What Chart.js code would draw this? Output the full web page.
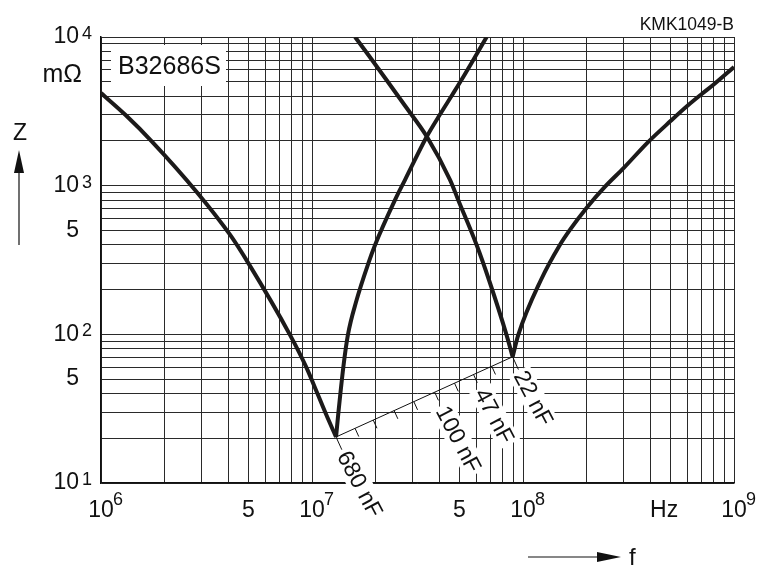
<!DOCTYPE html>
<html>
<head>
<meta charset="utf-8">
<script src="https://cdn.jsdelivr.net/npm/chart.js@4/dist/chart.umd.min.js"></script>
<style>
  body { margin: 0; background: #fff; }
  canvas { display: block; }
</style>
</head>
<body>
<canvas id="zChart" width="761" height="565"></canvas>
<script>
// impedance curves (f in Hz, Z in mOhm)
var freqA = [1.0e6, 1.304e6, 1.744e6, 2.848e6, 4.095e6, 5.0e6, 7.875e6, 9.38e6, 1.061e7, 1.166e7, 1.30e7,
             1.334e7, 1.408e7, 1.479e7, 1.627e7, 1.849e7, 1.99e7, 2.475e7, 2.76e7, 3.50e7, 4.033e7, 4.607e7, 5.252e7, 6.726e7];
var zA    = [4196, 2997, 1981, 904, 466, 300, 98.8, 60.4, 40.0, 29.0, 20.4,
             29.8, 60.4, 98.8, 170, 300, 399, 802, 1094, 2140, 2997, 4055, 5488, 10000];

var freqB = [1.60e7, 1.884e7, 2.26e7, 2.76e7, 3.50e7, 4.51e7, 4.93e7, 6.03e7, 6.90e7, 8.36e7, 8.93e7,
             9.49e7, 1.216e8, 1.495e8, 1.668e8, 2.0e8, 2.442e8, 3.004e8, 3.904e8, 5.016e8, 6.017e8, 7.055e8, 8.04e8, 1.0e9];
var zB    = [10000, 7310, 5117, 3446, 2140, 1094, 802, 399, 232, 98.8, 70.6,
             98.8, 232, 399, 504, 708, 981, 1317, 1956, 2730, 3446, 4151, 4810, 6280];

// capacitance scale between the two resonance points
var capNF   = [680, 470, 330, 220, 150, 100, 68, 47, 33, 22];
var capText = ['680 nF', '', '', '', '', '100 nF', '', '47 nF', '', '22 nF'];

var xLabelVals = [1e6, 5e6, 1e7, 5e7, 1e8, 5e8, 1e9];
var xLabelText = ['10', '5', '10', '5', '10', 'Hz  ', '10'];
var xLabelExp  = ['6', '', '7', '', '8', '', '9'];
var yLabelVals = [10, 50, 100, 500, 1000, 10000];
var yLabelText = ['10', '5', '10', '5', '10', '10'];
var yLabelExp  = ['1', '', '2', '', '3', '4'];

var FONT = '"Liberation Sans", Arial, sans-serif';

function decadeTicks(lo, hi) {
    var out = [];
    for (var e = lo; e < hi; e++) {
        for (var m = 1; m < 10; m++) out.push({value: m * Math.pow(10, e)});
    }
    out.push({value: Math.pow(10, hi)});
    return out;
}

function indexOfVal(vals, v) {
    for (var i = 0; i < vals.length; i++) {
        if (Math.abs(vals[i] - v) / vals[i] < 1e-6) return i;
    }
    return -1;
}

function labelFor(vals, texts, v) {
    var i = indexOfVal(vals, v);
    return i < 0 ? '' : texts[i];
}

function minIndex(zs) {
    var k = 0;
    zs.forEach(function (z, i) { if (z < zs[k]) k = i; });
    return k;
}

function pts(fs, zs, from, to) {
    var out = [];
    for (var i = from; i <= to; i++) out.push({x: fs[i], y: zs[i]});
    return out;
}

var kA = minIndex(zA), kB = minIndex(zB);
var minA = {f: freqA[kA], z: zA[kA]};
var minB = {f: freqB[kB], z: zB[kB]};

Chart.defaults.font.family = FONT;
Chart.defaults.color = '#111';

function curve(data) {
    return {
        data: data,
        showLine: true,
        borderColor: '#1c1a1a',
        borderWidth: 4,
        borderJoinStyle: 'round',
        pointRadius: 0,
        cubicInterpolationMode: 'monotone'
    };
}

var annotations = {
    id: 'annotations',
    afterDatasetsDraw: function (chart) {
        var ctx = chart.ctx, a = chart.chartArea;
        var xs = chart.scales.x, ys = chart.scales.y;

        // capacitance scale ticks and labels
        var p0 = {x: xs.getPixelForValue(minA.f), y: ys.getPixelForValue(minA.z)};
        var p1 = {x: xs.getPixelForValue(minB.f), y: ys.getPixelForValue(minB.z)};
        var dx = p1.x - p0.x, dy = p1.y - p0.y, len = Math.hypot(dx, dy);
        var nx = -dy / len, ny = dx / len;
        var ang = Math.atan2(ny, nx) - 0.06;
        var span = Math.log(capNF[0] / capNF[capNF.length - 1]);
        var last = capNF.length - 1;

        ctx.save();
        ctx.font = '23px ' + FONT;
        ctx.textBaseline = 'middle';
        ctx.textAlign = 'left';

        var tp = capNF.map(function (c) {
            var t = Math.log(capNF[0] / c) / span;
            return {x: p0.x + dx * t, y: p0.y + dy * t};
        });

        tp.forEach(function (p, i) {
            if (!capText[i]) return;
            var w = ctx.measureText(capText[i]).width;
            ctx.save();
            ctx.translate(p.x + nx * 17, p.y + ny * 17);
            ctx.rotate(ang);
            ctx.fillStyle = '#fff';
            ctx.fillRect(-2, -12, w + 5, 24);
            ctx.restore();
        });

        ctx.strokeStyle = '#111';
        ctx.lineWidth = 1;
        tp.forEach(function (p, i) {
            var L = (i === 0 || i === last) ? 14 : 9;
            ctx.beginPath();
            ctx.moveTo(p.x, p.y);
            ctx.lineTo(p.x + nx * L, p.y + ny * L);
            ctx.stroke();
        });

        ctx.fillStyle = '#111';
        tp.forEach(function (p, i) {
            if (!capText[i]) return;
            ctx.save();
            ctx.translate(p.x + nx * 17, p.y + ny * 17);
            ctx.rotate(ang);
            ctx.fillText(capText[i], 0, 1);
            ctx.restore();
        });

        // type designation box
        ctx.fillStyle = '#fff';
        ctx.fillRect(a.left + 10, a.top + 8, 115, 41);
        ctx.fillStyle = '#111';
        ctx.font = '25px ' + FONT;
        ctx.fillText('B32686S', a.left + 17, a.top + 30);

        // unit
        ctx.textAlign = 'right';
        ctx.fillText('mΩ', 82, a.top + 38);

        // exponents of the decade labels
        ctx.font = '18px ' + FONT;
        ctx.textAlign = 'left';
        ctx.textBaseline = 'alphabetic';
        xLabelVals.forEach(function (v, i) {
            if (!xLabelExp[i]) return;
            ctx.fillText(xLabelExp[i], xs.getPixelForValue(v) + 12, a.bottom + 22);
        });
        yLabelVals.forEach(function (v, i) {
            if (!yLabelExp[i]) return;
            ctx.fillText(yLabelExp[i], 82, ys.getPixelForValue(v) + 2);
        });

        // drawing number
        ctx.font = '17.5px ' + FONT;
        ctx.textAlign = 'right';
        ctx.fillText('KMK1049-B', a.right, 30);

        // Z arrow
        ctx.textAlign = 'center';
        ctx.textBaseline = 'middle';
        ctx.font = '23px ' + FONT;
        ctx.fillText('Z', 20, 134);
        ctx.lineWidth = 1.2;
        ctx.beginPath();
        ctx.moveTo(19, 245);
        ctx.lineTo(19, 168);
        ctx.stroke();
        ctx.beginPath();
        ctx.moveTo(19, 150);
        ctx.lineTo(14, 173);
        ctx.lineTo(24, 173);
        ctx.closePath();
        ctx.fill();

        // f arrow
        ctx.beginPath();
        ctx.moveTo(528, 557);
        ctx.lineTo(602, 557);
        ctx.stroke();
        ctx.beginPath();
        ctx.moveTo(621, 557);
        ctx.lineTo(597, 552);
        ctx.lineTo(597, 562);
        ctx.closePath();
        ctx.fill();
        ctx.textAlign = 'left';
        ctx.textBaseline = 'alphabetic';
        ctx.font = '24px ' + FONT;
        ctx.fillText('f', 629, 565);

        ctx.restore();
    }
};

const zCanvas = document.getElementById('zChart');

let zChart = new Chart(zCanvas, {
    type: 'scatter',
    data: {
        datasets: [
            curve(pts(freqA, zA, 0, kA)),
            curve(pts(freqA, zA, kA, freqA.length - 1)),
            curve(pts(freqB, zB, 0, kB)),
            curve(pts(freqB, zB, kB, freqB.length - 1)),
            {
                data: [{x: minA.f, y: minA.z}, {x: minB.f, y: minB.z}],
                showLine: true,
                borderColor: '#111',
                borderWidth: 1,
                pointRadius: 0
            }
        ]
    },
    options: {
        responsive: false,
        animation: false,
        layout: {padding: {top: 37, right: 27, left: 0, bottom: 0}},
        plugins: {
            legend: {display: false},
            tooltip: {enabled: false}
        },
        scales: {
            x: {
                type: 'logarithmic',
                min: 1e6,
                max: 1e9,
                afterBuildTicks: function (s) { s.ticks = decadeTicks(6, 9); },
                afterFit: function (s) { s.height = 82; },
                grid: {color: '#2a2a2a', lineWidth: 1, drawTicks: false},
                border: {color: '#111', width: 1.5},
                ticks: {
                    autoSkip: false,
                    maxRotation: 0,
                    minRotation: 0,
                    padding: 14,
                    font: {size: 23},
                    color: '#111',
                    callback: function (v) { return labelFor(xLabelVals, xLabelText, v); }
                }
            },
            y: {
                type: 'logarithmic',
                min: 10,
                max: 10000,
                afterBuildTicks: function (s) { s.ticks = decadeTicks(1, 4); },
                afterFit: function (s) { s.width = 101; },
                grid: {color: '#2a2a2a', lineWidth: 1, drawTicks: false},
                border: {color: '#111', width: 1.5},
                ticks: {
                    autoSkip: false,
                    padding: 22,
                    font: {size: 23},
                    color: '#111',
                    callback: function (v) { return labelFor(yLabelVals, yLabelText, v); }
                }
            }
        }
    },
    plugins: [annotations]
});
</script>
</body>
</html>
